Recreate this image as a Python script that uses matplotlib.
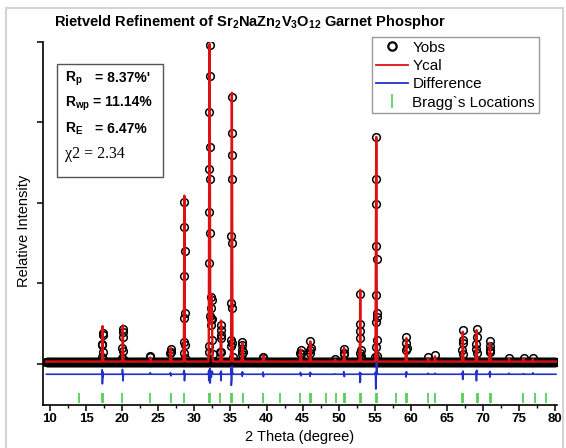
import numpy as np
import matplotlib
matplotlib.use('Agg')
import matplotlib.pyplot as plt
from matplotlib.lines import Line2D
from matplotlib.patches import Rectangle

plt.rcParams['font.family'] = 'Liberation Sans'
plt.rcParams['mathtext.fontset'] = 'custom'
plt.rcParams['mathtext.rm'] = 'Liberation Sans'
plt.rcParams['mathtext.bf'] = 'Liberation Sans:bold'
plt.rcParams['mathtext.it'] = 'Liberation Sans:italic'

W, H = 566, 448

# scan range and flat background level (counts)
scan_start, scan_end, scan_step = 9.5, 80.1, 0.02
background = 30
diff_offset = -128

# points on the reflections (2theta, observed, calculated), one line per peak
peak_2theta = [
    17.16, 17.20, 17.24, 17.26, 17.28, 17.30, 17.32, 17.36, 17.40,
    19.96, 20.00, 20.04, 20.06, 20.08, 20.10, 20.12, 20.16, 20.20,
    23.82, 23.88, 23.92, 23.98,
    26.62, 26.68, 26.72, 26.76, 26.82,
    28.46, 28.50, 28.54, 28.56, 28.58, 28.60, 28.62, 28.64, 28.66, 28.68, 28.72, 28.76,
    31.94, 31.98, 32.00, 32.02, 32.04, 32.06, 32.08, 32.10, 32.12, 32.14, 32.16,
    32.18, 32.20, 32.24, 32.28, 32.32, 32.36, 32.40, 32.44, 32.48, 32.52, 32.58,
    33.56, 33.62, 33.66, 33.68, 33.70, 33.72, 33.76, 33.84,
    35.04, 35.08, 35.10, 35.12, 35.14, 35.16, 35.18, 35.20, 35.22, 35.24, 35.26, 35.28, 35.32, 35.38,
    36.52, 36.58, 36.62, 36.64, 36.66, 36.70, 36.76,
    39.46, 39.52, 39.56, 39.62,
    44.64, 44.70, 44.74, 44.78, 44.84,
    45.94, 46.00, 46.04, 46.06, 46.10, 46.16,
    49.42, 49.50, 49.58,
    50.64, 50.70, 50.74, 50.78, 50.84,
    52.86, 52.90, 52.94, 52.96, 52.98, 53.00, 53.02, 53.04, 53.08, 53.14,
    55.04, 55.08, 55.10, 55.12, 55.14, 55.16, 55.18, 55.20, 55.22, 55.24, 55.26, 55.28, 55.30, 55.34, 55.40,
    59.24, 59.30, 59.34, 59.36, 59.40, 59.46,
    62.32, 62.40, 62.46,
    63.26, 63.34, 63.42,
    67.08, 67.14, 67.18, 67.20, 67.22, 67.26, 67.32,
    68.98, 69.04, 69.08, 69.10, 69.12, 69.16, 69.22,
    70.84, 70.90, 70.94, 70.96, 71.00, 71.06,
    73.52, 73.60, 73.68,
    75.52, 75.60, 75.68,
    76.82, 76.90, 76.98,
]
y_obs = [
    30, 87, 236, 250, 390, 360, 149, 60, 30,
    30, 70, 200, 330, 440, 400, 160, 60, 30,
    30, 100, 90, 30,
    30, 130, 190, 150, 30,
    30, 133, 277, 568, 1097, 1700, 2009, 1400, 630, 236, 80, 30,
    30, 153, 224, 1251, 1892, 2418, 3134, 3581, 3963, 2692, 2294,
    1623, 596, 484, 560, 700, 836, 800, 560, 300, 120, 30,
    30, 153, 319, 360, 484, 420, 150, 30,
    30, 224, 298, 762, 1594, 2302, 2866, 3320, 2600, 1500, 700, 260, 90, 30,
    30, 120, 174, 236, 270, 150, 30,
    30, 87, 80, 30,
    30, 133, 174, 120, 30,
    30, 133, 174, 290, 200, 30,
    30, 60, 30,
    30, 133, 182, 120, 30,
    30, 133, 319, 497, 870, 414, 174, 100, 60, 30,
    30, 83, 215, 525, 857, 1466, 1988, 2816, 2300, 1300, 637, 580, 300, 100, 30,
    30, 174, 265, 339, 200, 30,
    30, 83, 30,
    30, 108, 30,
    30, 174, 265, 422, 300, 120, 30,
    30, 182, 248, 431, 330, 130, 30,
    30, 174, 224, 286, 150, 30,
    30, 78, 30,
    30, 78, 30,
    30, 78, 30,
]
y_cal = [
    30, 60, 180, 370, 470, 330, 190, 60, 30,
    30, 60, 140, 290, 420, 480, 240, 70, 30,
    30, 80, 75, 30,
    30, 110, 200, 170, 30,
    30, 110, 240, 520, 1050, 1660, 2090, 1480, 680, 250, 70, 30,
    30, 120, 300, 1200, 1950, 2500, 3200, 3650, 3975, 2800, 2250,
    1550, 700, 500, 580, 720, 870, 780, 520, 270, 100, 30,
    30, 130, 330, 440, 540, 380, 140, 30,
    30, 150, 380, 900, 1700, 2400, 2950, 3370, 2500, 1400, 620, 230, 80, 30,
    30, 100, 200, 260, 240, 130, 30,
    30, 60, 110, 30,
    30, 110, 180, 140, 30,
    30, 110, 200, 280, 180, 30,
    30, 55, 30,
    30, 100, 200, 150, 30,
    30, 110, 300, 600, 920, 500, 180, 90, 50, 30,
    30, 60, 250, 700, 1030, 1650, 2150, 2820, 2150, 1150, 550, 450, 220, 80, 30,
    30, 150, 300, 320, 170, 30,
    30, 70, 30,
    30, 95, 30,
    30, 150, 330, 400, 260, 110, 30,
    30, 150, 330, 420, 280, 110, 30,
    30, 150, 260, 250, 130, 30,
    30, 65, 30,
    30, 70, 30,
    30, 60, 30,
]

# Bragg reflection positions
bragg_pos = [14.07, 17.22, 17.3, 20.0, 23.8, 26.7, 28.6, 31.98, 32.12, 33.62,
             35.12, 35.26, 36.68, 39.5, 41.8, 44.7, 46.0, 46.1, 48.2, 49.6,
             50.72, 50.85, 52.95, 53.08, 55.15, 55.28, 57.9, 59.35, 59.45,
             62.3, 63.35, 67.12, 67.25, 69.15, 69.25, 70.95, 71.05, 75.5,
             77.2, 78.7]


def fx(p):
    return p / W


def fy(p):
    return 1 - p / H


fig = plt.figure(figsize=(W / 100, H / 100), dpi=100)
fig.patch.set_facecolor('white')
ax = fig.add_axes([fx(42.7), 43 / H, (557 - 42.7) / W, 363 / H])

red = '#dd1111'
blue = '#2030c8'
green = '#55d055'

# observed points: dense background band + points on the peaks
x_bg = np.arange(scan_start, scan_end, scan_step)
ax.plot(x_bg, np.full_like(x_bg, background), 'o', mfc='none', mec='black',
        ms=5.5, mew=1.1, zorder=2)
ax.plot(peak_2theta, y_obs, 'o', mfc='none', mec='black', ms=5.5, mew=1.1,
        zorder=2)

# calculated profile and difference
x_line = [scan_start] + peak_2theta + [scan_end]
cal_line = np.array([background] + y_cal + [background])
obs_line = np.array([background] + y_obs + [background])
ax.plot(x_line, cal_line, color=red, lw=1.7, zorder=3)
ax.plot(x_line, obs_line - cal_line + diff_offset, color=blue, lw=1.2, zorder=3)

# Bragg positions
ax.vlines(bragg_pos, -480, -357, color=green, lw=1.3, zorder=3)

ax.set_xlim(8.99, 80.24)
ax.set_ylim(-510, 4000)
ax.set_xticks(np.arange(10, 81, 5))
ax.set_xticks(np.arange(12.5, 80, 5), minor=True)
ax.set_yticks([0, 1000, 2000, 3000, 4000])
ax.set_yticklabels([])
ax.tick_params(axis='x', which='major', direction='out', length=4, width=1.1,
               labelsize=9.5, pad=2)
ax.tick_params(axis='x', which='minor', direction='out', length=2.5, width=1.0)
ax.tick_params(axis='y', direction='out', length=4, width=1.1)
for lab in ax.get_xticklabels():
    lab.set_fontweight('bold')
for s in ['top', 'right']:
    ax.spines[s].set_visible(False)
for s in ['left', 'bottom']:
    ax.spines[s].set_linewidth(1.2)

ax.set_xlabel('2 Theta (degree)', fontsize=10.5)
ax.xaxis.set_label_coords(0.5, -0.069)
ax.set_ylabel('Relative Intensity', fontsize=10.5)
ax.yaxis.set_label_coords(-0.022, 0.48)

fig.text(fx(250), fy(22),
         r'Rietveld Refinement of Sr$_\mathbf{2}$NaZn$_\mathbf{2}$V$_\mathbf{3}$O$_\mathbf{12}$ Garnet Phosphor',
         ha='center', va='center', fontsize=10.5, fontweight='bold')

# statistics box
fig.add_artist(Rectangle((fx(57), fy(177)), (163 - 57) / W, (177 - 64) / H,
                         transform=fig.transFigure, facecolor='white',
                         edgecolor='#555555', lw=1.0, zorder=5))
stat_kw = dict(fontsize=10, fontweight='bold', va='baseline', zorder=6)
fig.text(fx(65), fy(81.5), r'R$_\mathbf{p}$', **stat_kw)
fig.text(fx(95), fy(81.5), "= 8.37%'", **stat_kw)
fig.text(fx(65), fy(106.5), r'R$_\mathbf{wp}$', **stat_kw)
fig.text(fx(92.7), fy(106.5), '= 11.14%', **stat_kw)
fig.text(fx(65), fy(133), r'R$_\mathbf{E}$', **stat_kw)
fig.text(fx(95), fy(133), '= 6.47%', **stat_kw)
fig.text(fx(65), fy(158.5), '\u03c72 = 2.34', fontsize=11.5,
         family='Liberation Serif', va='baseline', zorder=6)

# legend
handles = [
    Line2D([], [], marker='o', ls='none', mfc='none', mec='black', ms=6, mew=1.6),
    Line2D([], [], color=red, lw=1.3),
    Line2D([], [], color=blue, lw=1.3),
    Line2D([], [], marker='|', ls='none', color=green, ms=10, mew=1.2),
]
labels = ['Yobs', 'Ycal', 'Difference', 'Bragg`s Locations']
leg = ax.legend(handles, labels, loc='upper left',
                bbox_to_anchor=(fx(372), fy(37)), bbox_transform=fig.transFigure,
                fontsize=11, frameon=True, fancybox=False, framealpha=1,
                edgecolor='#999999', handlelength=2.1, handletextpad=0.3,
                labelspacing=0.28, borderpad=0.25, borderaxespad=0)
leg.get_frame().set_linewidth(1.0)

# light frame around the picture
for xs, ys in [([fx(6), fx(563)], [fy(8), fy(8)]),
               ([fx(6), fx(6)], [fy(8), 0]),
               ([fx(563), fx(563)], [fy(8), 0])]:
    fig.add_artist(Line2D(xs, ys, color='#d4d4d4', lw=1.5,
                          transform=fig.transFigure))

fig.savefig('out.png', dpi=100, facecolor='white')
